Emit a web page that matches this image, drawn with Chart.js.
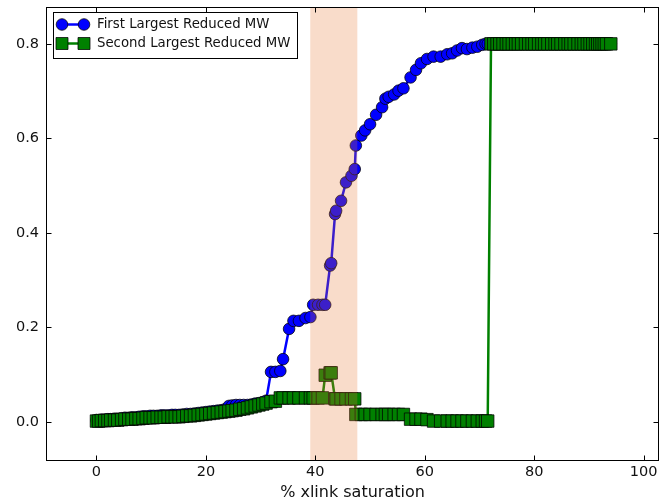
<!DOCTYPE html>
<html>
<head>
<meta charset="utf-8">
<script src="https://cdn.jsdelivr.net/npm/chart.js@4.4.0/dist/chart.umd.min.js"></script>
<style>
    html, body { margin: 0; padding: 0; background: #fff; }
    #wrap { width: 661px; height: 503px; }
</style>
</head>
<body>
<div id="wrap"><canvas id="chart"></canvas></div>
<script>
// % xlink saturation (shared x values)
const saturation = [
    0.0, 0.4, 0.9, 1.5, 2.1, 2.6, 3.3, 3.9, 4.6, 5.2,
    5.9, 6.5, 7.2, 7.8, 8.5, 9.1, 9.8, 10.4, 11.1, 11.8,
    12.4, 13.1, 13.8, 14.4, 15.1, 15.8, 16.5, 17.2, 17.9, 18.6,
    19.3, 20.0, 20.7, 21.4, 22.1, 22.8, 23.5, 24.2, 24.8, 25.5,
    26.2, 26.9, 27.6, 28.3, 29.0, 29.7, 30.4, 31.0,
    31.9, 32.7, 33.6, 34.1, 35.2, 36.0, 37.0, 38.2, 39.1, 39.6,
    40.5, 41.3, 41.8, 42.7, 42.9, 43.6, 43.8, 44.7, 45.6, 46.6,
    47.2, 47.4, 48.4, 49.1, 50.0, 51.1, 52.2, 52.8, 53.4, 54.4,
    55.2, 56.1, 57.4, 58.4, 59.3, 60.4, 61.6, 62.9, 64.1, 65.0,
    65.9, 66.8, 67.7, 68.7, 69.6, 70.5, 71.1, 71.5,
    72.1, 72.6, 73.2, 73.7, 74.3, 74.9, 75.4, 76.0, 76.6, 77.1,
    77.7, 78.4, 79.0, 79.6, 80.1, 80.8, 81.4, 81.9, 82.5, 83.2,
    83.8, 84.3, 84.9, 85.6, 86.2, 86.7, 87.3, 88.0, 88.6, 89.1,
    89.7, 90.2, 90.7, 91.2, 91.6, 92.0, 92.4, 92.8, 93.2, 94.0
];

const firstLargest = [
    0.004, 0.004, 0.005, 0.005, 0.006, 0.006, 0.007, 0.007, 0.008, 0.009,
    0.009, 0.010, 0.010, 0.011, 0.012, 0.012, 0.013, 0.013, 0.013, 0.014,
    0.014, 0.014, 0.015, 0.015, 0.015, 0.016, 0.017, 0.017, 0.018, 0.019,
    0.020, 0.021, 0.022, 0.023, 0.024, 0.025, 0.027, 0.034, 0.035, 0.036,
    0.036, 0.036, 0.036, 0.037, 0.039, 0.040, 0.042, 0.045,
    0.106, 0.106, 0.108, 0.133, 0.197, 0.214, 0.214, 0.220, 0.222, 0.248,
    0.248, 0.248, 0.248, 0.331, 0.336, 0.440, 0.447, 0.468, 0.507, 0.521,
    0.535, 0.585, 0.606, 0.617, 0.630, 0.650, 0.666, 0.684, 0.688, 0.693,
    0.701, 0.706, 0.729, 0.745, 0.759, 0.768, 0.773, 0.773, 0.778, 0.780,
    0.786, 0.791, 0.789, 0.792, 0.794, 0.798, 0.800, 0.800,
    0.8, 0.8, 0.8, 0.8, 0.8, 0.8, 0.8, 0.8, 0.8, 0.8,
    0.8, 0.8, 0.8, 0.8, 0.8, 0.8, 0.8, 0.8, 0.8, 0.8,
    0.8, 0.8, 0.8, 0.8, 0.8, 0.8, 0.8, 0.8, 0.8, 0.8,
    0.8, 0.8, 0.8, 0.8, 0.8, 0.8, 0.8, 0.8, 0.8, 0.8
];

const secondLargest = [
    0.002, 0.002, 0.003, 0.003, 0.003, 0.004, 0.004, 0.004, 0.005, 0.006,
    0.006, 0.006, 0.007, 0.007, 0.008, 0.009, 0.009, 0.009, 0.010, 0.010,
    0.010, 0.011, 0.011, 0.011, 0.011, 0.012, 0.013, 0.013, 0.014, 0.015,
    0.016, 0.017, 0.018, 0.019, 0.020, 0.021, 0.022, 0.023, 0.024, 0.025,
    0.027, 0.028, 0.030, 0.032, 0.034, 0.036, 0.038, 0.040,
    0.043, 0.044, 0.051, 0.051, 0.051, 0.051, 0.051, 0.051, 0.051, 0.051,
    0.051, 0.051, 0.099, 0.104, 0.104, 0.049, 0.049, 0.049, 0.049, 0.049,
    0.049, 0.016, 0.016, 0.016, 0.016, 0.016, 0.016, 0.016, 0.016, 0.016,
    0.016, 0.016, 0.006, 0.006, 0.006, 0.005, 0.002, 0.002, 0.002, 0.002,
    0.002, 0.002, 0.002, 0.002, 0.002, 0.002, 0.002, 0.002,
    0.8, 0.8, 0.8, 0.8, 0.8, 0.8, 0.8, 0.8, 0.8, 0.8,
    0.8, 0.8, 0.8, 0.8, 0.8, 0.8, 0.8, 0.8, 0.8, 0.8,
    0.8, 0.8, 0.8, 0.8, 0.8, 0.8, 0.8, 0.8, 0.8, 0.8,
    0.8, 0.8, 0.8, 0.8, 0.8, 0.8, 0.8, 0.8, 0.8, 0.8
];

const seriesNames = ['First Largest Reduced MW', 'Second Largest Reduced MW'];
const xTicks = [0, 20, 40, 60, 80, 100];
const yTicks = [0.0, 0.2, 0.4, 0.6, 0.8];
const shadedRange = [39.07, 47.67];

const FONT = 'DejaVu Sans';
const BLUE = 'rgb(0, 0, 255)';
const GREEN = 'rgb(0, 128, 0)';
const EDGE = 'rgba(0, 0, 0, 0.75)';

function toPoints(ys) {
    return saturation.map((x, i) => ({ x: x, y: ys[i] }));
}

function drawMarker(ctx, shape, cx, cy, fill) {
    ctx.fillStyle = fill;
    ctx.strokeStyle = EDGE;
    ctx.lineWidth = 1;
    ctx.beginPath();
    if (shape === 'circle') {
        ctx.arc(cx, cy, 5.8, 0, Math.PI * 2);
    } else {
        ctx.rect(cx - 6, cy - 6, 12, 12);
    }
    ctx.fill();
    ctx.stroke();
}

// no label overhang padding: the plot box is placed by hand
function noOverhang(s) {
    s.paddingLeft = 0;
    s.paddingRight = 0;
    s.paddingTop = 0;
    s.paddingBottom = 0;
}

// shaded band, frame with inward ticks, and a matplotlib-like legend
const decorations = {
    id: 'decorations',
    afterDatasetsDraw(chart) {
        const { ctx, chartArea: a, scales: { x, y } } = chart;
        ctx.save();
        const x0 = x.getPixelForValue(shadedRange[0]);
        const x1 = x.getPixelForValue(shadedRange[1]);
        ctx.fillStyle = 'rgba(230, 120, 50, 0.26)';
        ctx.fillRect(x0, a.top, x1 - x0, a.bottom - a.top);

        ctx.strokeStyle = '#000';
        ctx.lineWidth = 1;
        const L = Math.round(a.left) + 0.5, R = Math.round(a.right) - 0.5;
        const T = Math.round(a.top) + 0.5, B = Math.round(a.bottom) - 0.5;
        ctx.strokeRect(L, T, R - L, B - T);

        ctx.beginPath();
        xTicks.forEach(v => {
            const px = Math.round(x.getPixelForValue(v)) + 0.5;
            ctx.moveTo(px, B); ctx.lineTo(px, B - 5);
            ctx.moveTo(px, T); ctx.lineTo(px, T + 5);
        });
        yTicks.forEach(v => {
            const py = Math.round(y.getPixelForValue(v)) + 0.5;
            ctx.moveTo(L, py); ctx.lineTo(L + 5, py);
            ctx.moveTo(R, py); ctx.lineTo(R - 5, py);
        });
        ctx.stroke();
        ctx.restore();
    },
    afterDraw(chart) {
        const ctx = chart.ctx;
        ctx.save();
        ctx.fillStyle = '#fff';
        ctx.fillRect(53.5, 12.5, 244, 46);
        ctx.strokeStyle = '#000';
        ctx.lineWidth = 1;
        ctx.strokeRect(53.5, 12.5, 244, 46);

        const entries = [
            { label: seriesNames[0], color: BLUE, shape: 'circle', y: 24.5 },
            { label: seriesNames[1], color: GREEN, shape: 'rect', y: 43.5 }
        ];
        entries.forEach(e => {
            ctx.strokeStyle = e.color;
            ctx.lineWidth = 2.5;
            ctx.beginPath();
            ctx.moveTo(62, e.y);
            ctx.lineTo(84, e.y);
            ctx.stroke();
            drawMarker(ctx, e.shape, 62, e.y, e.color);
            drawMarker(ctx, e.shape, 84, e.y, e.color);
            ctx.fillStyle = '#111';
            ctx.font = '13.3px "' + FONT + '"';
            ctx.textBaseline = 'middle';
            ctx.textAlign = 'left';
            ctx.fillText(e.label, 97, e.y);
        });
        ctx.restore();
    }
};

const ctx = document.getElementById('chart').getContext('2d');

new Chart(ctx, {
    type: 'scatter',
    data: {
        datasets: [
            {
                label: seriesNames[1],
                data: toPoints(secondLargest),
                showLine: true,
                borderColor: GREEN,
                borderWidth: 2.5,
                pointStyle: 'rect',
                pointRadius: 8.8,
                pointBackgroundColor: GREEN,
                pointBorderColor: EDGE,
                pointBorderWidth: 1,
                order: 1
            },
            {
                label: seriesNames[0],
                data: toPoints(firstLargest),
                showLine: true,
                borderColor: BLUE,
                borderWidth: 2.5,
                pointStyle: 'circle',
                pointRadius: 5.8,
                pointBackgroundColor: BLUE,
                pointBorderColor: EDGE,
                pointBorderWidth: 1,
                order: 2
            }
        ]
    },
    options: {
        responsive: true,
        maintainAspectRatio: false,
        animation: false,
        events: [],
        layout: { autoPadding: false, padding: { top: 7, right: 2, left: 0, bottom: 0 } },
        plugins: {
            legend: { display: false },
            tooltip: { enabled: false }
        },
        scales: {
            x: {
                type: 'linear',
                min: -9.22,
                max: 102.8,
                grid: { display: false, drawTicks: false },
                border: { display: false },
                afterBuildTicks: s => { s.ticks = xTicks.map(v => ({ value: v })); },
                afterFit: s => { s.height = 42; noOverhang(s); },
                ticks: {
                    padding: 3,
                    maxRotation: 0,
                    color: '#111',
                    font: { family: FONT, size: 14.5 },
                    callback: v => String(v)
                },
                title: {
                    display: true,
                    text: '% xlink saturation',
                    color: '#111',
                    font: { family: FONT, size: 16, lineHeight: 1.2 },
                    padding: { top: 0, bottom: 1 }
                }
            },
            y: {
                type: 'linear',
                min: -0.0825,
                max: 0.878,
                grid: { display: false, drawTicks: false },
                border: { display: false },
                afterBuildTicks: s => { s.ticks = yTicks.map(v => ({ value: v })); },
                afterFit: s => { s.width = 46; noOverhang(s); },
                ticks: {
                    padding: 7,
                    color: '#111',
                    font: { family: FONT, size: 14.5 },
                    callback: v => v.toFixed(1)
                }
            }
        }
    },
    plugins: [decorations]
});
</script>
</body>
</html>
